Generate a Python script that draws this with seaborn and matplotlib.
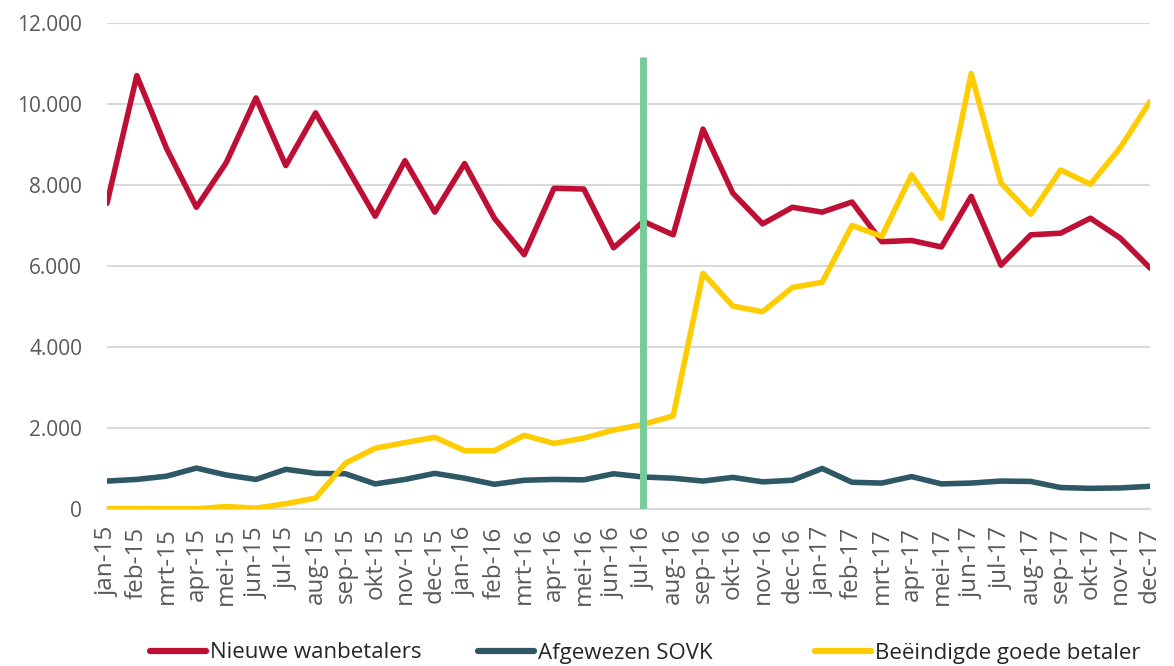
import pandas as pd
import numpy as np
import seaborn as sns
import matplotlib.pyplot as plt
from matplotlib.ticker import FuncFormatter

# maanden jan-15 .. dec-17
months = ["jan", "feb", "mrt", "apr", "mei", "jun",
          "jul", "aug", "sep", "okt", "nov", "dec"]
periods = [m + "-" + y for y in ["15", "16", "17"] for m in months]

nieuwe_wanbetalers = [7550, 10700, 8900, 7450, 8550, 10150, 8480, 9780, 8500, 7230, 8600, 7330,
                      8530, 7180, 6280, 7920, 7900, 6450, 7100, 6770, 9380, 7800, 7040, 7450,
                      7330, 7580, 6600, 6630, 6470, 7720, 6020, 6770, 6810, 7180, 6690, 5950]
afgewezen_sovk = [690, 730, 810, 1010, 840, 730, 980, 880, 870, 620, 730, 880,
                  760, 610, 710, 730, 720, 870, 790, 760, 690, 780, 670, 710,
                  1000, 660, 640, 800, 620, 640, 690, 680, 530, 510, 520, 560]
beeindigd = [10, 10, 5, 5, 60, 20, 130, 270, 1130, 1500, 1640, 1770,
             1440, 1440, 1820, 1620, 1750, 1950, 2090, 2300, 5820, 5010, 4870, 5470,
             5600, 7000, 6730, 8250, 7180, 10750, 8050, 7280, 8370, 8020, 8920, 10060]

series_names = ["Nieuwe wanbetalers", "Afgewezen SOVK", "Beëindigde goede betaler"]
colors = ["#BE0F34", "#2E5866", "#FFCC00"]

marker_period = "jul-16"
marker_top = 11150

W, H = 1174, 666

sns.set_style("white")
plt.rcParams["font.family"] = ["Open Sans", "DejaVu Sans"]

# long format for seaborn
df = pd.DataFrame({
    "periode": periods * 3,
    "x": list(range(len(periods))) * 3,
    "waarde": nieuwe_wanbetalers + afgewezen_sovk + beeindigd,
    "reeks": [s for s in series_names for _ in periods],
})

fig = plt.figure(figsize=(W / 100, H / 100), dpi=100)
ax = fig.add_axes([107 / W, 1 - 509 / H, (1150 - 107) / W, (509 - 23) / H])

sns.lineplot(data=df, x="x", y="waarde", hue="reeks", hue_order=series_names,
             palette=colors, linewidth=4, ax=ax, zorder=3, legend=True)

# groene markering
mx = periods.index(marker_period)
ax.vlines(mx, 0, marker_top, color="#77CC99", linewidth=5, zorder=4)

ax.set_xlim(0, len(periods) - 1)
ax.set_ylim(0, 12000)
ax.set_yticks(np.arange(0, 12001, 2000))
ax.yaxis.set_major_formatter(FuncFormatter(lambda v, p: f"{int(v):,}".replace(",", ".")))
ax.set_xticks(range(len(periods)))
ax.set_xticklabels(periods, rotation=90)

ax.grid(axis="y", color="#D9D9D9", linewidth=1.5)
ax.set_axisbelow(True)
for s in ["top", "right", "left"]:
    ax.spines[s].set_visible(False)
ax.spines["bottom"].set_color("#D9D9D9")
ax.spines["bottom"].set_linewidth(1.5)
ax.tick_params(axis="x", length=6, width=1.2, color="#D9D9D9", labelsize=17.5,
               labelcolor="#595959", pad=7)
ax.tick_params(axis="y", length=0, labelsize=15, labelcolor="#595959", pad=18)
ax.set_xlabel("")
ax.set_ylabel("")

# legenda: drie losse items zoals in Excel
handles, labels = ax.get_legend_handles_labels()
ax.get_legend().remove()
leg_x = [150, 478, 815]
for h, l, lx in zip(handles, labels, leg_x):
    leg = fig.legend([h], [l], loc="center left", bbox_to_anchor=(lx / W, 1 - 653 / H),
                     frameon=False, fontsize=16, handlelength=2.5,
                     handletextpad=0.2, borderpad=0, borderaxespad=0)
    leg.get_lines()[0].set_linewidth(4.5)
    leg.get_texts()[0].set_color("#262626")

fig.savefig("out.png", dpi=100)
